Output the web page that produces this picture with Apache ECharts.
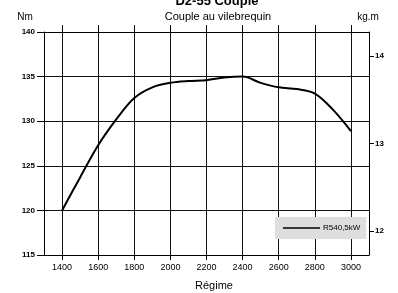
<!DOCTYPE html>
<html>
<head>
<meta charset="utf-8">
<script src="https://cdn.jsdelivr.net/npm/echarts@6/dist/echarts.min.js"></script>
<style>html,body{margin:0;padding:0;background:#fff}#c{width:398px;height:293px}</style>
</head>
<body>
<div id="c"></div>
<script>
var rpm = [1400,1500,1600,1700,1800,1900,2000,2100,2200,2300,2400,2500,2600,2700,2800,2900,3000];
var torqueNm = [120,123.7,127.3,130.2,132.6,133.8,134.3,134.5,134.6,134.9,135.0,134.3,133.8,133.6,133.1,131.3,128.9];
var xTicks = [1400,1600,1800,2000,2200,2400,2600,2800,3000];
var kgmTicks = [12,13,14];
var seriesName = 'R540,5kW';
var titleText = 'D2-55 Couple';
var subtitleText = 'Couple au vilebrequin';
var leftUnit = 'Nm';
var rightUnit = 'kg.m';
var xName = 'Régime';
var NM_PER_KGM = 9.80665;

var narrow = '"Liberation Sans Narrow","Arial Narrow","Liberation Sans",Arial,sans-serif';
var sans = '"Liberation Sans",Arial,sans-serif';
var chart = echarts.init(document.getElementById('c'));
var data = rpm.map(function(r,i){return [r, torqueNm[i]];});
var plain = function(v){return String(v);};
chart.setOption({
  animation:false,
  backgroundColor:'#fff',
  graphic:[
    {type:'text', style:{text:titleText, x:217, y:-5, textAlign:'center', font:'bold 13px '+sans, fill:'#000'}},
    {type:'text', style:{text:subtitleText, x:218, y:11, textAlign:'center', font:'11px '+sans, fill:'#000'}},
    {type:'text', style:{text:leftUnit, x:25, y:12, textAlign:'center', font:'10px '+sans, fill:'#000'}},
    {type:'text', style:{text:rightUnit, x:368, y:12, textAlign:'center', font:'10px '+sans, fill:'#000'}},
    {type:'text', style:{text:xName, x:214, y:280, textAlign:'center', font:'11px '+sans, fill:'#000'}}
  ],
  grid:{left:44, right:29, top:32, bottom:38, show:false},
  legend:{
    data:[{name:seriesName, icon:'rect'}],
    left:275, top:217, orient:'horizontal',
    itemWidth:37, itemHeight:1.5, itemGap:0,
    backgroundColor:'#dedede', padding:[7,6,7,8],
    textStyle:{fontFamily:narrow, fontSize:8, color:'#000', padding:[0,0,0,-2]}
  },
  xAxis:[{
    type:'value', min:1300, max:3100, position:'bottom',
    axisLine:{show:true, onZero:false, lineStyle:{color:'#000', width:1}},
    axisTick:{show:true, customValues:xTicks, length:5, lineStyle:{color:'#000'}},
    axisLabel:{customValues:xTicks, formatter:plain, fontFamily:narrow, fontSize:9, color:'#000', margin:8},
    splitLine:{show:true, lineStyle:{color:'#111', width:1}}
  },{
    type:'value', min:1300, max:3100, position:'top',
    axisLine:{show:true, onZero:false, lineStyle:{color:'#000', width:1}},
    axisTick:{show:true, customValues:xTicks, length:7, lineStyle:{color:'#000'}},
    axisLabel:{show:false},
    splitLine:{show:false}
  }],
  yAxis:[{
    type:'value', min:115, max:140, interval:5, position:'left',
    axisLine:{show:true, onZero:false, lineStyle:{color:'#000', width:1}},
    axisTick:{show:true, length:7, lineStyle:{color:'#000'}},
    axisLabel:{formatter:plain, fontFamily:narrow, fontSize:8, fontWeight:'bold', color:'#000', margin:9},
    splitLine:{show:true, lineStyle:{color:'#111', width:1}}
  },{
    type:'value', min:115/NM_PER_KGM, max:140/NM_PER_KGM, position:'right',
    axisLine:{show:true, onZero:false, lineStyle:{color:'#000', width:1}},
    axisTick:{show:true, customValues:kgmTicks, length:5, lineStyle:{color:'#000'}},
    axisLabel:{customValues:kgmTicks, formatter:plain, fontFamily:narrow, fontSize:8, fontWeight:'bold', color:'#000', margin:6},
    splitLine:{show:false}
  }],
  series:[{
    name:seriesName, type:'line', xAxisIndex:0, yAxisIndex:0,
    data:data, smooth:0.35, showSymbol:false, symbol:'none',
    lineStyle:{color:'#000', width:2}, itemStyle:{color:'#000'}
  }]
});
</script>
</body>
</html>
